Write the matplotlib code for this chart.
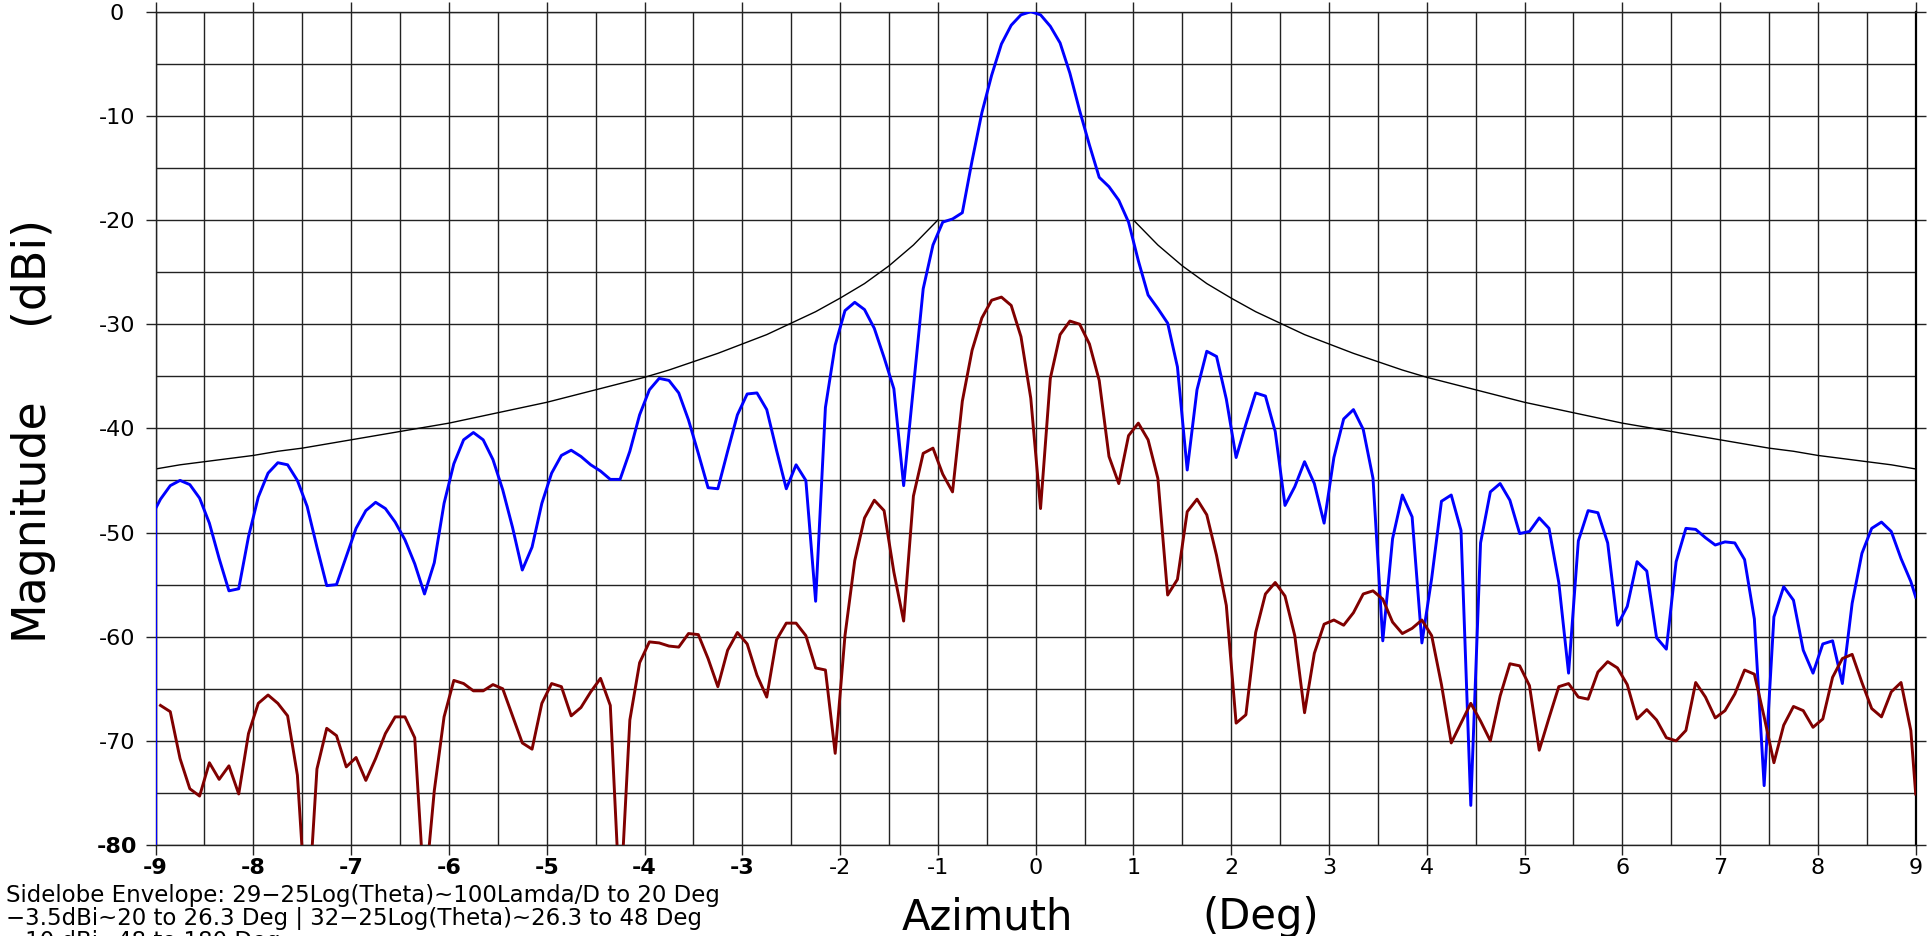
import numpy as np
import matplotlib
matplotlib.use("Agg")
import matplotlib.pyplot as plt

# Azimuth bins (deg): 0.1 deg bins centred on -8.95 ... 8.95
az_centres = np.round(np.arange(-8.95, 8.951, 0.1), 2)
sweep_edge = 9.0

# Co-polar pattern (dBi, normalised), one value per bin
co_pol = [
    -46.8, -45.5, -45.0, -45.4, -46.7, -49.1, -52.5, -55.6, -55.4, -50.4,
    -46.6, -44.3, -43.3, -43.5, -45.0, -47.5, -51.4, -55.1, -55.0, -52.3,
    -49.6, -47.9, -47.1, -47.7, -49.0, -50.7, -53.0, -55.9, -52.9, -47.2,
    -43.4, -41.1, -40.4, -41.1, -43.0, -45.9, -49.5, -53.6, -51.4, -47.2,
    -44.3, -42.6, -42.1, -42.7, -43.5, -44.1, -44.9, -44.9, -42.2, -38.7,
    -36.3, -35.2, -35.4, -36.6, -39.2, -42.4, -45.7, -45.8, -42.2, -38.7,
    -36.7, -36.6, -38.2, -42.1, -45.8, -43.5, -45.0, -56.6, -38.0, -32.0,
    -28.7, -27.9, -28.6, -30.4, -33.2, -36.2, -45.5, -36.0, -26.6, -22.4,
    -20.2, -19.9, -19.3, -14.3, -9.7, -6.1, -3.1, -1.3, -0.3, 0.0,
    -0.3, -1.4, -3.0, -5.9, -9.5, -12.8, -15.9, -16.8, -18.1, -20.2,
    -23.9, -27.2, -28.5, -29.9, -34.1, -44.0, -36.3, -32.6, -33.1, -37.2,
    -42.8, -39.6, -36.6, -36.9, -40.3, -47.4, -45.6, -43.2, -45.3, -49.1,
    -42.8, -39.1, -38.2, -40.1, -44.8, -60.4, -50.6, -46.4, -48.5, -60.6,
    -54.4, -47.0, -46.4, -49.8, -76.2, -51.0, -46.1, -45.3, -46.9, -50.1,
    -49.9, -48.6, -49.6, -54.8, -63.5, -50.8, -47.9, -48.1, -51.0, -58.9,
    -57.1, -52.8, -53.7, -60.1, -61.2, -52.8, -49.6, -49.7, -50.5, -51.2,
    -50.9, -51.0, -52.6, -58.3, -74.3, -58.1, -55.2, -56.5, -61.3, -63.5,
    -60.7, -60.4, -64.5, -56.8, -52.0, -49.6, -49.0, -49.9, -52.5, -54.7,
]
# Co-polar values at the sweep edges: floor and first sample at -9 deg, last at +9 deg
co_pol_left_floor = -100.0
co_pol_left_edge = -47.7
co_pol_right_edge = -56.2

# Cross-polar pattern (dBi, normalised), one value per bin
cross_pol = [
    -66.6, -67.2, -71.7, -74.6, -75.3, -72.1, -73.7, -72.4, -75.1, -69.3,
    -66.4, -65.6, -66.4, -67.6, -73.3, -88.0, -72.7, -68.8, -69.5, -72.5,
    -71.6, -73.8, -71.7, -69.3, -67.7, -67.7, -69.7, -85.0, -74.8, -67.7,
    -64.2, -64.5, -65.2, -65.2, -64.6, -65.0, -67.6, -70.2, -70.8, -66.4,
    -64.5, -64.8, -67.6, -66.8, -65.3, -64.0, -66.6, -86.0, -68.0, -62.5,
    -60.5, -60.6, -60.9, -61.0, -59.7, -59.8, -62.1, -64.8, -61.3, -59.6,
    -60.7, -63.7, -65.8, -60.3, -58.7, -58.7, -59.9, -63.0, -63.2, -71.2,
    -59.9, -52.7, -48.6, -46.9, -47.9, -53.8, -58.5, -46.5, -42.4, -41.9,
    -44.4, -46.1, -37.4, -32.5, -29.4, -27.7, -27.4, -28.2, -31.2, -37.1,
    -47.7, -35.2, -31.0, -29.7, -30.0, -31.9, -35.4, -42.7, -45.3, -40.7,
    -39.5, -41.1, -44.8, -56.0, -54.5, -48.0, -46.8, -48.3, -52.2, -57.0,
    -68.3, -67.5, -59.6, -55.9, -54.8, -56.1, -59.9, -67.3, -61.6, -58.8,
    -58.4, -58.9, -57.7, -55.9, -55.6, -56.4, -58.6, -59.7, -59.2, -58.4,
    -59.9, -64.6, -70.2, -68.3, -66.4, -68.1, -70.0, -65.7, -62.6, -62.8,
    -64.7, -70.9, -67.8, -64.8, -64.5, -65.8, -66.0, -63.4, -62.4, -63.0,
    -64.6, -67.9, -67.0, -68.0, -69.7, -70.0, -69.0, -64.4, -65.8, -67.8,
    -67.1, -65.5, -63.2, -63.6, -67.7, -72.1, -68.5, -66.7, -67.1, -68.7,
    -67.9, -63.9, -62.1, -61.7, -64.4, -66.9, -67.7, -65.3, -64.4, -69.0,
]
cross_pol_right_edge = -75.1

# Sidelobe envelope (relative dB) for |theta| = 1 ... 9 deg, 0.25 deg steps
env_theta = np.arange(1.0, 9.001, 0.25)
env_db = [
    -20.0, -22.4, -24.4, -26.1, -27.5, -28.8, -29.9, -31.0, -31.9, -32.8,
    -33.6, -34.4, -35.1, -35.7, -36.3, -36.9, -37.5, -38.0, -38.5, -39.0,
    -39.5, -39.9, -40.3, -40.7, -41.1, -41.5, -41.9, -42.2, -42.6, -42.9,
    -43.2, -43.5, -43.9,
]

assert len(co_pol) == len(az_centres) == len(cross_pol)
assert len(env_db) == len(env_theta)

x_ticks = list(range(-9, 10))
y_ticks = list(range(-80, 1, 10))
bold_x_labels = {-9, -8, -7, -6, -5, -4, -3}
bold_y_labels = {-80}

note_lines = [
    "Sidelobe Envelope: 29\u221225Log(Theta)~100Lamda/D to 20 Deg",
    "\u22123.5dBi~20 to 26.3 Deg | 32\u221225Log(Theta)~26.3 to 48 Deg",
    "\u221210 dBi~48 to 180 Deg",
]

W, H = 1929, 936
fig = plt.figure(figsize=(W / 100, H / 100), dpi=100)
fig.patch.set_facecolor("white")

x0, x1 = 155.6, 1915.7
y0, y1 = 11.7, 845.0
ax = fig.add_axes([x0 / W, 1 - y1 / H, (x1 - x0) / W, (y1 - y0) / H])
ax.set_xlim(-9, 9)
ax.set_ylim(-80, 0)

# grid every 0.5 deg / 5 dB
ax.set_xticks(x_ticks)
ax.set_xticks(np.arange(-8.5, 9, 1.0), minor=True)
ax.set_yticks(y_ticks)
ax.set_yticks(np.arange(-75, 0, 10), minor=True)
ax.grid(True, which="both", color="#222222", linewidth=1.0)
ax.set_axisbelow(True)

ax.tick_params(which="major", direction="out", length=7, width=1.0,
               top=True, right=True, labeltop=False, labelright=False,
               color="#222222", labelsize=16)
ax.tick_params(which="minor", length=0)
ax.tick_params(axis="y", pad=21)
ax.tick_params(axis="x", pad=2)

ax.set_xticklabels([str(v) for v in x_ticks], family="DejaVu Sans")
ax.set_yticklabels([str(v) for v in y_ticks], family="DejaVu Sans")
for lbl, v in zip(ax.get_xticklabels(), x_ticks):
    if v in bold_x_labels:
        lbl.set_fontweight("bold")
for lbl, v in zip(ax.get_yticklabels(), y_ticks):
    lbl.set_horizontalalignment("center")
    if v in bold_y_labels:
        lbl.set_fontweight("bold")

for side in ["left", "top", "bottom"]:
    ax.spines[side].set_linewidth(1.0)
    ax.spines[side].set_color("#222222")
ax.spines["right"].set_linewidth(1.6)
ax.spines["right"].set_color("black")

# sidelobe envelope, both sides
ax.plot(-env_theta, env_db, color="black", linewidth=1.0, zorder=2)
ax.plot(env_theta, env_db, color="black", linewidth=1.0, zorder=2)

# co-polar (blue) with sweep edge samples
co_az = np.r_[-sweep_edge, -sweep_edge, az_centres, sweep_edge]
co_db = np.r_[co_pol_left_floor, co_pol_left_edge, co_pol, co_pol_right_edge]
ax.plot(co_az, co_db, color="#0000ff", linewidth=2.1, zorder=3)

# cross-polar (dark red)
cx_az = np.r_[az_centres, sweep_edge]
cx_db = np.r_[cross_pol, cross_pol_right_edge]
ax.plot(cx_az, cx_db, color="#800000", linewidth=2.1, zorder=4)

# axis titles
fig.text(902 / W, 1 - 929 / H, "Azimuth", fontsize=30, family="DejaVu Sans",
         ha="left", va="baseline")
fig.text(1202 / W, 1 - 929 / H, "(Deg)", fontsize=30, family="DejaVu Sans",
         ha="left", va="baseline")
fig.text(29 / W, 1 - 518 / H, "Magnitude", fontsize=33, family="DejaVu Sans",
         rotation=90, ha="center", va="center")
fig.text(29 / W, 1 - 270 / H, "(dBi)", fontsize=33, family="DejaVu Sans",
         rotation=90, ha="center", va="center")

# envelope definition note (last line runs off the lower edge)
for i, line in enumerate(note_lines):
    fig.text(6 / W, 1 - (902 + 23 * i) / H, line, fontsize=16.5,
             family="DejaVu Sans", ha="left", va="baseline", color="black")

fig.savefig("out.png", dpi=100, facecolor="white")
